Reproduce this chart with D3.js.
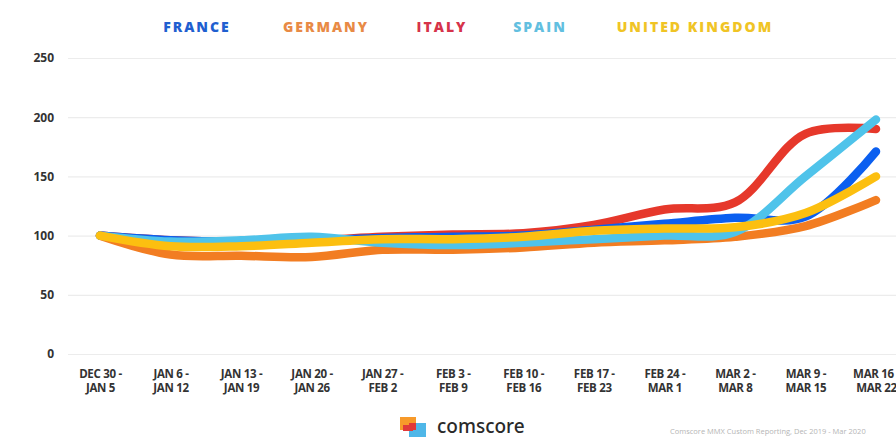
<!DOCTYPE html>
<html>
<head>
<meta charset="utf-8">
<script src="https://cdn.jsdelivr.net/npm/d3@7"></script>
<style>
  html, body { margin: 0; padding: 0; background: #fff; }
  svg { display: block; }
</style>
</head>
<body>
<svg id="chart" width="896" height="438"></svg>
<script>
// Weekly index (first week = 100)
const weeks = [
  ["DEC 30 -", "JAN 5"], ["JAN 6 -", "JAN 12"], ["JAN 13 -", "JAN 19"],
  ["JAN 20 -", "JAN 26"], ["JAN 27 -", "FEB 2"], ["FEB 3 -", "FEB 9"],
  ["FEB 10 -", "FEB 16"], ["FEB 17 -", "FEB 23"], ["FEB 24 -", "MAR 1"],
  ["MAR 2 -", "MAR 8"], ["MAR 9 -", "MAR 15"], ["MAR 16 -", "MAR 22"]
];
const countries = ["FRANCE", "GERMANY", "ITALY", "SPAIN", "UNITED KINGDOM"];
const france  = [100, 96, 95, 96, 98, 99, 100, 105, 110, 115, 116, 171];
const germany = [100, 84, 83, 82, 88, 88, 90, 94, 96, 99, 108, 130];
const italy   = [100, 96, 95, 96, 99, 101, 102, 109, 122, 128, 186, 190];
const spain   = [100, 95, 96, 99, 94, 92, 94, 97, 100, 103, 150, 198];
const uk      = [100, 91, 91, 94, 97, 97, 99, 104, 106, 107, 119, 150];
const yTicks  = [0, 50, 100, 150, 200, 250];

const lineColors  = { "FRANCE": "#0b5ff0", "GERMANY": "#f27d22", "ITALY": "#e6382b", "SPAIN": "#4fc3ea", "UNITED KINGDOM": "#fcbf10" };
const labelColors = { "FRANCE": "#1f5fd0", "GERMANY": "#e88a45", "ITALY": "#d6334a", "SPAIN": "#62bfe0", "UNITED KINGDOM": "#f0c425" };
const seriesValues = { "FRANCE": france, "GERMANY": germany, "ITALY": italy, "SPAIN": spain, "UNITED KINGDOM": uk };
// back-to-front drawing order
const drawOrder = ["ITALY", "FRANCE", "GERMANY", "SPAIN", "UNITED KINGDOM"];

const svg = d3.select("#chart");
const font = "'Open Sans', 'DejaVu Sans', sans-serif";

const x = d3.scalePoint().domain(d3.range(weeks.length)).range([100, 876]);
const y = d3.scaleLinear().domain([0, 250]).range([354, 58]);

// gridlines + y labels
const yAxis = d3.axisLeft(y).tickValues(yTicks).tickSize(-(896 - 68)).tickPadding(14);
const gy = svg.append("g").attr("transform", "translate(68,0)").call(yAxis);
gy.select(".domain").remove();
gy.selectAll(".tick line").attr("stroke", "#ececec").attr("stroke-width", 1.2);
gy.selectAll(".tick text")
  .attr("fill", "#333").attr("font-family", font).attr("font-weight", 700)
  .attr("font-size", 12);

// x labels
const xAxis = d3.axisBottom(x).tickSize(0).tickFormat(() => "");
const gx = svg.append("g").attr("transform", "translate(0,354)").call(xAxis);
gx.select(".domain").remove();
gx.selectAll(".tick").each(function(i) {
  const t = d3.select(this).append("text")
    .attr("text-anchor", "middle").attr("fill", "#333")
    .attr("font-family", font).attr("font-weight", 700).attr("font-size", 11.5)
    .attr("letter-spacing", -0.3);
  t.append("tspan").attr("x", 0).attr("y", 24).text(weeks[i][0]);
  t.append("tspan").attr("x", 0).attr("y", 38).text(weeks[i][1]);
});

// lines
const line = d3.line()
  .x((d, i) => x(i))
  .y(d => y(d))
  .curve(d3.curveCatmullRom.alpha(0.5));

svg.append("g").selectAll("path")
  .data(drawOrder)
  .join("path")
  .attr("d", c => line(seriesValues[c]))
  .attr("fill", "none")
  .attr("stroke", c => lineColors[c])
  .attr("stroke-width", 8.5)
  .attr("stroke-linecap", "round")
  .attr("stroke-linejoin", "round");

// legend
const legendX = { "FRANCE": 197, "GERMANY": 326, "ITALY": 442, "SPAIN": 540, "UNITED KINGDOM": 695 };
svg.append("g").selectAll("text")
  .data(countries)
  .join("text")
  .attr("x", c => legendX[c])
  .attr("y", 32)
  .attr("text-anchor", "middle")
  .attr("fill", c => labelColors[c])
  .attr("font-family", font)
  .attr("font-weight", 800)
  .attr("font-size", 14)
  .attr("letter-spacing", 2)
  .text(c => c);

// footer logo
const logo = svg.append("g").attr("transform", "translate(400,417)");
logo.append("rect").attr("x", 0).attr("y", 0).attr("width", 16).attr("height", 13).attr("fill", "#f79a2a");
logo.append("rect").attr("x", 9).attr("y", 6).attr("width", 17).attr("height", 14).attr("fill", "#4fb7e8");
logo.append("rect").attr("x", 9).attr("y", 6).attr("width", 7).attr("height", 7).attr("fill", "#e03a3a");
logo.append("rect").attr("x", 3).attr("y", 8).attr("width", 10).attr("height", 6).attr("fill", "#e03a3a");

svg.append("text")
  .attr("x", 437).attr("y", 433)
  .attr("fill", "#2a2a2a")
  .attr("font-family", "'Noto Sans', 'DejaVu Sans', sans-serif")
  .attr("font-weight", 500)
  .attr("font-size", 19)
  .text("comscore");

svg.append("text")
  .attr("x", 670).attr("y", 434)
  .attr("fill", "#b5b5b5")
  .attr("font-family", font)
  .attr("font-size", 7.5)
  .text("Comscore MMX Custom Reporting, Dec 2019 - Mar 2020");
</script>
</body>
</html>
